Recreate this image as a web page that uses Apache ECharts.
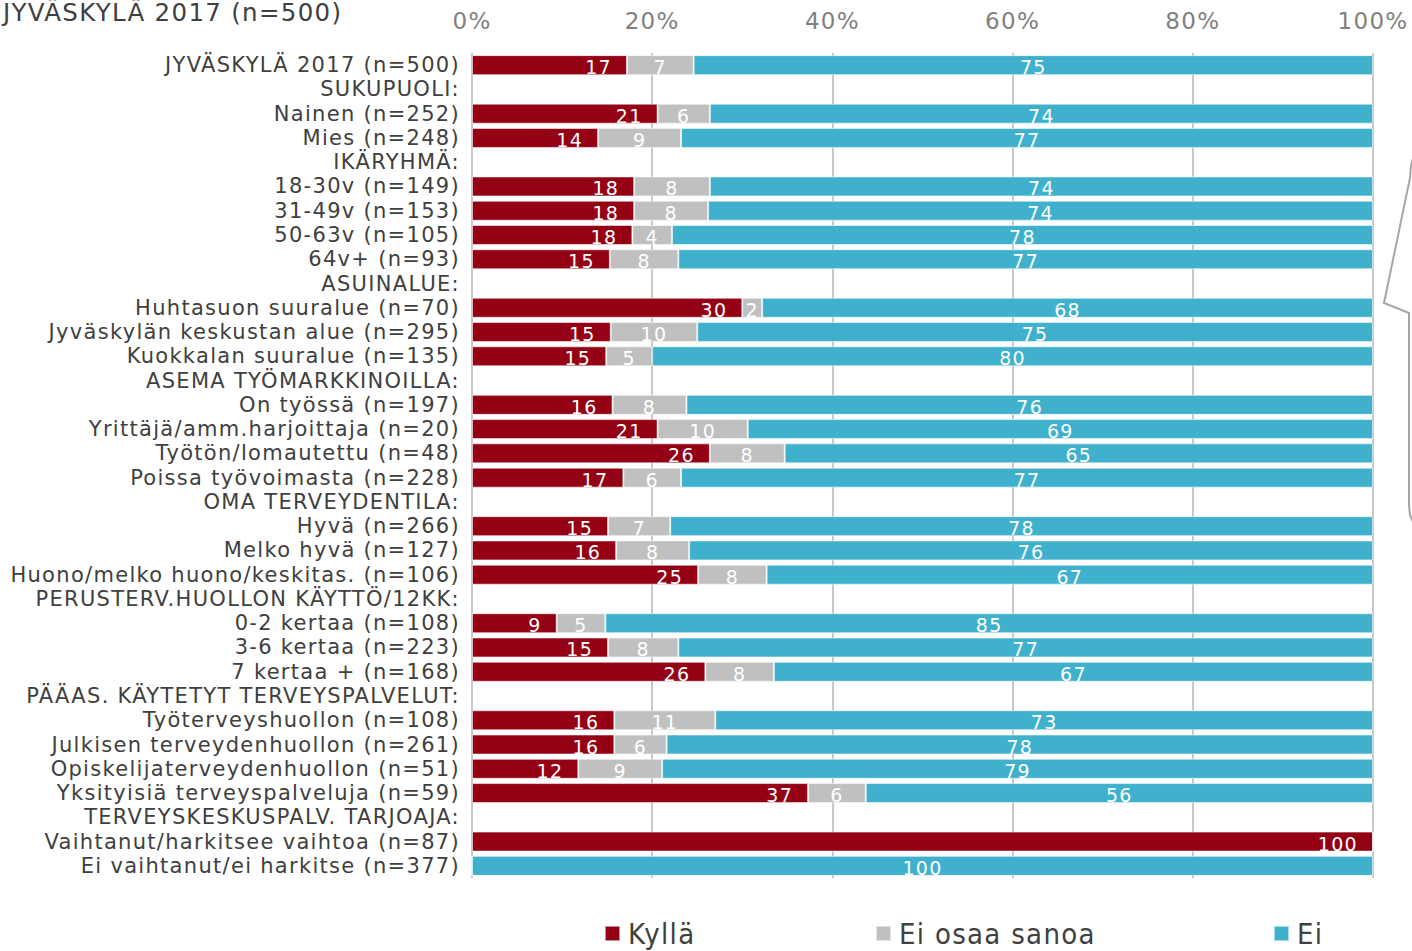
<!DOCTYPE html>
<html>
<head>
<meta charset="utf-8">
<script src="https://cdn.jsdelivr.net/npm/echarts@6/dist/echarts.min.js"></script>
<style>
  html, body { margin: 0; padding: 0; background: #fff; }
  #chart { width: 1412px; height: 951px; }
  /* Excelin harva kirjainväli */
  #chart text { letter-spacing: 1.3px; }
</style>
</head>
<body>
<div id="chart"></div>
<script>
// rivit ylhäältä alas, otsikkorivit ilman arvoja
const categories = [
  'JYVÄSKYLÄ 2017 (n=500)', 'SUKUPUOLI:', 'Nainen (n=252)', 'Mies (n=248)',
  'IKÄRYHMÄ:', '18-30v (n=149)', '31-49v (n=153)', '50-63v (n=105)', '64v+ (n=93)',
  'ASUINALUE:', 'Huhtasuon suuralue (n=70)', 'Jyväskylän keskustan alue (n=295)', 'Kuokkalan suuralue (n=135)',
  'ASEMA TYÖMARKKINOILLA:', 'On työssä (n=197)', 'Yrittäjä/amm.harjoittaja (n=20)', 'Työtön/lomautettu (n=48)', 'Poissa työvoimasta (n=228)',
  'OMA TERVEYDENTILA:', 'Hyvä (n=266)', 'Melko hyvä (n=127)', 'Huono/melko huono/keskitas. (n=106)',
  'PERUSTERV.HUOLLON KÄYTTÖ/12KK:', '0-2 kertaa (n=108)', '3-6 kertaa (n=223)', '7 kertaa + (n=168)',
  'PÄÄAS. KÄYTETYT TERVEYSPALVELUT:', 'Työterveyshuollon (n=108)', 'Julkisen terveydenhuollon (n=261)', 'Opiskelijaterveydenhuollon (n=51)', 'Yksityisiä terveyspalveluja (n=59)',
  'TERVEYSKESKUSPALV. TARJOAJA:', 'Vaihtanut/harkitsee vaihtoa (n=87)', 'Ei vaihtanut/ei harkitse (n=377)'
];

const kylla = [
  17.2, null, 20.6, 14.0,
  null, 18.0, 18.0, 17.8, 15.3,
  null, 30.0, 15.4, 14.9,
  null, 15.6, 20.6, 26.4, 16.8,
  null, 15.1, 16.0, 25.1,
  null, 9.4, 15.1, 25.9,
  null, 15.8, 15.8, 11.8, 37.3,
  null, 100, 0
];
const eiOsaa = [
  7.4, null, 5.8, 9.2,
  null, 8.4, 8.2, 4.4, 7.6,
  null, 2.2, 9.6, 5.1,
  null, 8.2, 10.0, 8.3, 6.4,
  null, 6.9, 8.1, 7.6,
  null, 5.4, 7.8, 7.6,
  null, 11.2, 5.8, 9.3, 6.4,
  null, 0, 0
];
const ei = [
  75.4, null, 73.6, 76.8,
  null, 73.6, 73.8, 77.8, 77.1,
  null, 67.8, 75.0, 80.0,
  null, 76.2, 69.4, 65.3, 76.8,
  null, 78.0, 75.9, 67.3,
  null, 85.2, 77.1, 66.5,
  null, 73.0, 78.4, 78.9, 56.3,
  null, 0, 100
];

const seriesNames = ['Kyllä', 'Ei osaa sanoa', 'Ei'];
const colors = ['#940014', '#c0c0c0', '#3fb1cd'];
const legendLeft = [604, 875, 1273];

const font = "'DejaVu Sans', Verdana, sans-serif";

function labelFmt(p) {
  if (p.value == null || p.value === 0) return '';
  return String(Math.round(p.value));
}

function makeSeries(name, data, color, pos) {
  return {
    name: name,
    type: 'bar',
    stack: 'all',
    data: data,
    barWidth: 20,
    itemStyle: { color: color, borderColor: 'rgba(255,255,255,0.55)', borderWidth: 1 },
    label: {
      show: true,
      position: pos,
      distance: 15,
      offset: [0, 2],
      color: '#fff',
      fontFamily: font,
      fontSize: 19,
      formatter: labelFmt
    },
    emphasis: { disabled: true }
  };
}

// yksi selite per sarja, jotta välit saa kuten alkuperäisessä
const legends = seriesNames.map((name, i) => ({
  data: [name],
  left: legendLeft[i],
  top: 919,
  padding: 0,
  icon: 'rect',
  itemWidth: 15,
  itemHeight: 15,
  textStyle: {
    fontFamily: "'DejaVu Sans Condensed', 'Liberation Sans Narrow', sans-serif",
    fontSize: 29,
    color: '#404040',
    padding: [0, 0, 0, 3]
  }
}));

const chart = echarts.init(document.getElementById('chart'), null, { renderer: 'svg' });
chart.setOption({
  animation: false,
  backgroundColor: '#fff',
  title: {
    text: 'JYVÄSKYLÄ 2017 (n=500)',
    left: -2,
    top: -5,
    textStyle: { fontFamily: font, fontSize: 24.5, fontWeight: 'normal', color: '#404040' }
  },
  legend: legends,
  grid: { left: 472, right: 39, top: 53, bottom: 73 },
  xAxis: {
    type: 'value',
    position: 'top',
    min: 0,
    max: 100,
    interval: 20,
    axisLine: { show: false },
    axisTick: { show: false },
    axisLabel: {
      formatter: '{value}%',
      margin: 21,
      color: '#7f7f7f',
      fontFamily: font,
      fontSize: 23
    },
    splitLine: { lineStyle: { color: '#c8c8c8', width: 2 } }
  },
  yAxis: {
    type: 'category',
    inverse: true,
    data: categories,
    axisLine: { show: false },
    axisTick: { show: false },
    axisLabel: {
      interval: 0,
      margin: 12,
      color: '#404040',
      fontFamily: font,
      fontSize: 21
    }
  },
  series: [
    makeSeries(seriesNames[0], kylla, colors[0], 'insideRight'),
    makeSeries(seriesNames[1], eiOsaa, colors[1], 'inside'),
    makeSeries(seriesNames[2], ei, colors[2], 'inside')
  ],
  graphic: [{
    type: 'polyline',
    shape: { points: [[1413, 158], [1411, 166], [1410, 178], [1384, 303], [1409, 313], [1409, 505], [1410, 515], [1413, 522]] },
    style: { fill: null, stroke: '#a6a6a6', lineWidth: 2 }
  }]
});
</script>
</body>
</html>
